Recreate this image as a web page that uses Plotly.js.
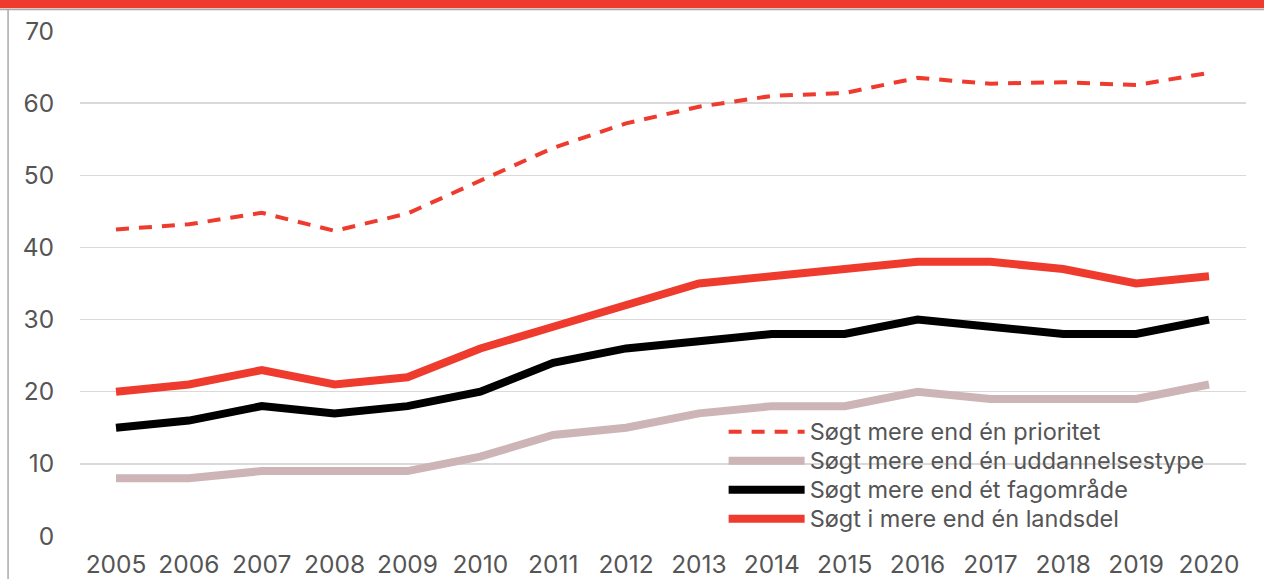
<!DOCTYPE html>
<html>
<head>
<meta charset="utf-8">
<script src="https://cdn.plot.ly/plotly-3.0.1.min.js"></script>
<style>
html,body{margin:0;padding:0;background:#fff;}
#chart{width:1264px;height:579px;}
#chart .legendtext{font-size:23.5px !important;}
#chart .legend .scrollbox, #chart .legend g{clip-path:none !important;}
</style>
</head>
<body>
<div id="chart"></div>
<script>
const years = [2005,2006,2007,2008,2009,2010,2011,2012,2013,2014,2015,2016,2017,2018,2019,2020];
const prioritet = [42.5,43.2,44.8,42.3,44.7,49.2,53.8,57.2,59.5,61.0,61.4,63.5,62.7,62.9,62.5,64.2];
const uddannelsestype = [8,8,9,9,9,11,14,15,17,18,18,20,19,19,19,21];
const fagomraade = [15,16,18,17,18,20,24,26,27,28,28,30,29,28,28,30];
const landsdel = [20,21,23,21,22,26,29,32,35,36,37,38,38,37,35,36];
const names = ["Søgt mere end én prioritet","Søgt mere end én uddannelsestype","Søgt mere end ét fagområde","Søgt i mere end én landsdel"];

const RED = "#EE3B2E";
const font = {family: "Inter, 'Liberation Sans', sans-serif", color: "#555555"};

const traces = [
  {x: years, y: prioritet, name: names[0], mode: "lines", line: {color: RED, width: 4, dash: "13px,10px"}},
  {x: years, y: uddannelsestype, name: names[1], mode: "lines", line: {color: "#CDB4B6", width: 8}},
  {x: years, y: fagomraade, name: names[2], mode: "lines", line: {color: "#000000", width: 8}},
  {x: years, y: landsdel, name: names[3], mode: "lines", line: {color: RED, width: 8}}
];

const layout = {
  width: 1264, height: 579,
  margin: {l: 80, r: 18, t: 31, b: 43},
  paper_bgcolor: "#fff", plot_bgcolor: "#fff",
  font: Object.assign({size: 24.5}, font),
  showlegend: true,
  legend: {x: 0.552, y: 0.245, xanchor: "left", yanchor: "top", bgcolor: "rgba(0,0,0,0)",
           font: Object.assign({size: 20}, font), itemwidth: 76, tracegroupgap: 0, traceorder: "normal"},
  xaxis: {range: [2004.506, 2020.508], tickvals: years, ticktext: years.map(String), showgrid: false,
          zeroline: false, showline: false, ticks: "outside", ticklen: 7, tickcolor: "rgba(0,0,0,0)",
          tickfont: Object.assign({size: 24.5}, font)},
  yaxis: {range: [0, 70], tickvals: [0,10,20,30,40,50,60,70], showgrid: true, gridcolor: "#D9D9D9", gridwidth: 1.5,
          zeroline: false, showline: false, ticks: "outside", ticklen: 20, tickcolor: "rgba(0,0,0,0)",
          tickfont: Object.assign({size: 24.5}, font)},
  shapes: [
    {type: "rect", xref: "paper", yref: "paper", x0: -0.08, x1: 1.02, y0: 1.045, y1: 1.0615, fillcolor: RED, line: {width: 0}, layer: "above"},
    {type: "line", xref: "paper", yref: "paper", x0: -0.08, x1: 1.02, y0: 1.0425, y1: 1.0425, line: {color: "#AAAAAA", width: 1.5}},
    {type: "line", xref: "paper", yref: "paper", x0: -0.0617, x1: -0.0617, y0: -0.09, y1: 1.0425, line: {color: "#AAAAAA", width: 1.5}}
  ]
};

Plotly.newPlot("chart", traces, layout, {displayModeBar: false, staticPlot: true});
</script>
</body>
</html>
